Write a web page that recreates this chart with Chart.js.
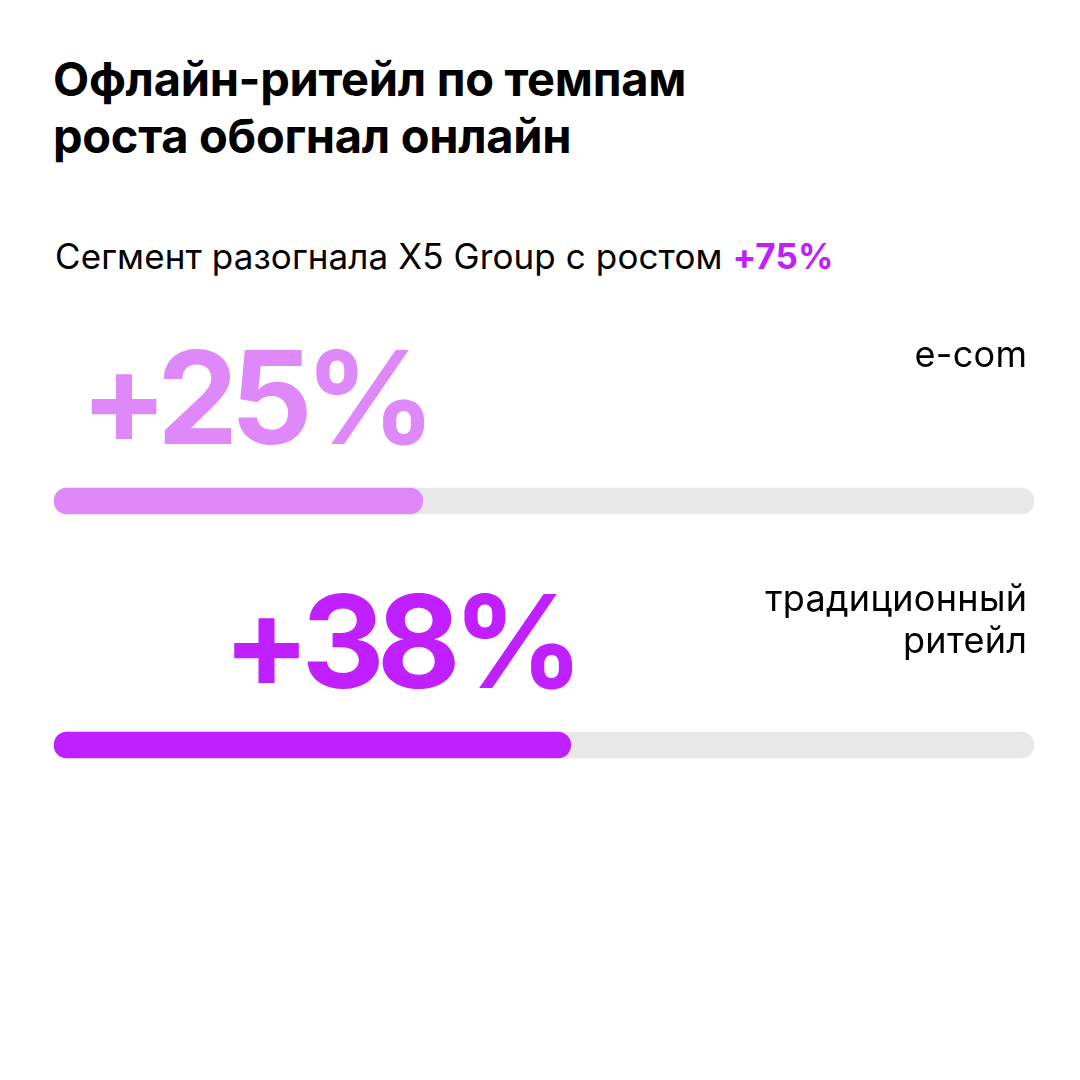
<!DOCTYPE html>
<html>
<head>
<meta charset="utf-8">
<script src="https://cdn.jsdelivr.net/npm/chart.js@4.4.1/dist/chart.umd.min.js"></script>
<style>
  html, body { margin: 0; padding: 0; background: #ffffff; }
  #wrap { position: relative; width: 1080px; height: 1080px; overflow: hidden; background: #fff; }
  #title { position: absolute; left: 53px; top: 50px; font-family: Inter, "Noto Sans", sans-serif; font-weight: 700; font-size: 47px; line-height: 57px; color: #000; letter-spacing: -0.3px; }
  #subtitle { position: absolute; left: 55px; top: 235px; font-family: Inter, "Noto Sans", sans-serif; font-weight: 400; font-size: 35px; line-height: 42px; color: #000; letter-spacing: 0.1px; }
  #subtitle b { color: #C020FF; font-weight: 700; }
  canvas { position: absolute; left: 0; top: 0; }
</style>
</head>
<body>
<div id="wrap">
  <div id="title">Офлайн-ритейл по темпам<br>роста обогнал онлайн</div>
  <div id="subtitle">Сегмент разогнала X5 Group с ростом <b>+75%</b></div>
  <canvas id="c" width="1080" height="1080"></canvas>
</div>
<script>
// Data
const categories = ['e-com', 'традиционный ритейл'];
const categoryLines = [['e-com'], ['традиционный', 'ритейл']];
const growthValues = [25, 38];
const barColors = ['#DF88FA', '#C020FF'];
const trackColor = '#E8E8E8';
// Value axis range (as drawn in the reference)
const axisMin = -7.4;
const axisMax = 78.7;

const labelPlugin = {
  id: 'labels',
  afterDatasetsDraw(chart) {
    const ctx = chart.ctx;
    const meta = chart.getDatasetMeta(1);
    const area = chart.chartArea;
    meta.data.forEach((bar, i) => {
      ctx.save();
      ctx.fillStyle = barColors[i];
      ctx.font = '700 129px Inter, "Noto Sans", sans-serif';
      ctx.textAlign = 'right';
      ctx.textBaseline = 'alphabetic';
      const txt = '+' + growthValues[i] + '%';
      if (ctx.letterSpacing !== undefined) ctx.letterSpacing = '-8px';
      ctx.fillText(txt, bar.x + 5, bar.y - 57);
      ctx.restore();

      ctx.save();
      ctx.fillStyle = '#000';
      ctx.font = '400 36px Inter, "Noto Sans", sans-serif';
      ctx.textAlign = 'right';
      ctx.textBaseline = 'alphabetic';
      if (ctx.letterSpacing !== undefined) ctx.letterSpacing = '0.3px';
      const lines = categoryLines[i];
      lines.forEach((ln, j) => {
        ctx.fillText(ln, area.right - 7 + 0.3, bar.y - 134 + j * 42);
      });
      ctx.restore();
    });
  }
};

new Chart(document.getElementById('c'), {
  type: 'bar',
  data: {
    labels: categories,
    datasets: [
      {
        label: 'track',
        data: categories.map(() => axisMax),
        base: axisMin,
        backgroundColor: trackColor,
        borderRadius: 13,
        borderSkipped: false,
        barThickness: 26,
        grouped: false,
        order: 2
      },
      {
        label: 'рост',
        data: growthValues,
        base: axisMin,
        backgroundColor: barColors,
        borderRadius: 13,
        borderSkipped: false,
        barThickness: 26,
        grouped: false,
        order: 1
      }
    ]
  },
  options: {
    indexAxis: 'y',
    responsive: false,
    animation: false,
    devicePixelRatio: 1,
    layout: { padding: { left: 54, right: 46, top: 379, bottom: 213 } },
    scales: {
      x: { min: axisMin, max: axisMax, display: false },
      y: { display: false }
    },
    plugins: { legend: { display: false }, tooltip: { enabled: false } }
  },
  plugins: [labelPlugin]
});
</script>
</body>
</html>
